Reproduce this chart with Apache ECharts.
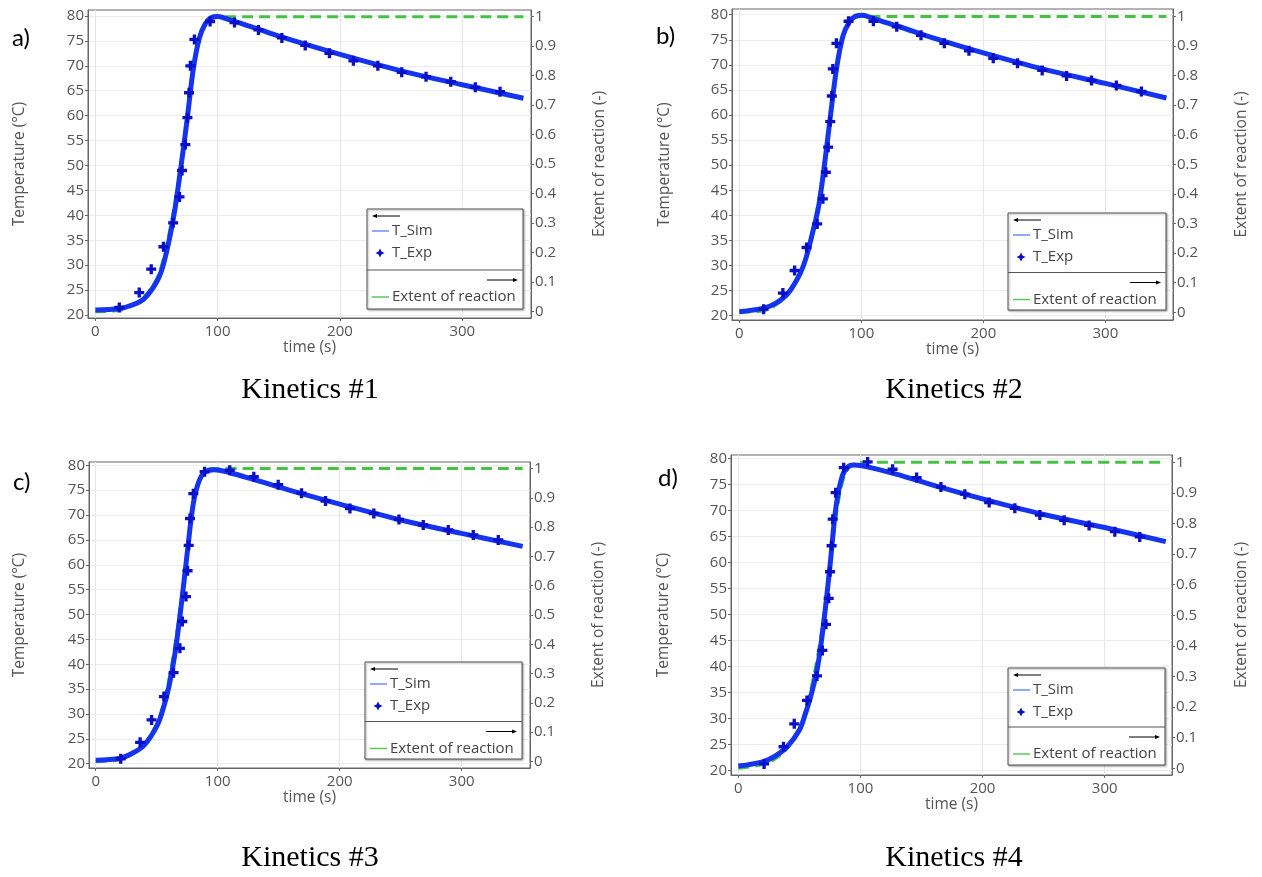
<!DOCTYPE html>
<html>
<head>
<meta charset="utf-8">
<script src="https://cdn.jsdelivr.net/npm/echarts@6/dist/echarts.min.js"></script>
<style>
html,body{margin:0;padding:0;background:#fff;}
#chart{width:1262px;height:877px;}
</style>
</head>
<body>
<div id="chart"></div>
<script>
// ---------- tick labels ----------
const timeTicks = [0, 100, 200, 300];
const tempTicks = [20, 25, 30, 35, 40, 45, 50, 55, 60, 65, 70, 75, 80];
const extentTicks = [0, 0.1, 0.2, 0.3, 0.4, 0.5, 0.6, 0.7, 0.8, 0.9, 1];
const panelLetters = ['a)', 'b)', 'c)', 'd)'];
const captions = ['Kinetics #1', 'Kinetics #2', 'Kinetics #3', 'Kinetics #4'];
const legendNames = ['T_Sim', 'T_Exp', 'Extent of reaction'];

// ---------- Kinetics #1 ----------
const simA_t = [0, 20, 30, 40, 50, 55, 60, 65, 70, 75, 80, 85, 90, 95, 100, 110, 130, 160, 200, 250, 300, 350];
const simA_T = [21.0, 21.3, 22.0, 23.3, 26.6, 29.6, 34.6, 41.1, 49.8, 59.1, 69.2, 75.5, 78.5, 79.7, 79.9, 79.2, 77.6, 75.2, 72.3, 69.0, 66.2, 63.5];
const expA_t = [19.6, 35.9, 45.7, 55.7, 63.6, 68.8, 70.9, 73.6, 75.3, 76.6, 77.7, 81.0, 93.8, 113.8, 133.4, 152.5, 171.6, 191.4, 211, 231, 250.5, 270.4, 290.6, 310.7, 330.9];
const expA_T = [21.5, 24.5, 29.2, 33.7, 38.5, 43.7, 49.0, 54.2, 59.6, 64.6, 70.0, 75.3, 78.9, 78.7, 77.2, 75.6, 74.1, 72.5, 71.0, 70.0, 68.7, 67.8, 66.8, 65.7, 64.8];
const extA_t = [0, 20, 30, 40, 50, 55, 60, 65, 70, 75, 80, 85, 90, 95, 100, 350];
const extA_v = [0, 0.005, 0.02, 0.05, 0.11, 0.17, 0.26, 0.37, 0.5, 0.65, 0.81, 0.92, 0.97, 0.995, 1, 1];

// ---------- Kinetics #2 ----------
const simB_t = [0, 20, 30, 40, 50, 55, 60, 65, 70, 75, 80, 85, 90, 95, 101, 110, 130, 160, 200, 250, 300, 350];
const simB_T = [20.8, 21.5, 22.5, 24.5, 28.5, 31.8, 36.5, 41.8, 50.5, 60.5, 69.8, 75.8, 78.5, 79.7, 79.9, 79.2, 77.7, 75.3, 72.4, 69.1, 66.3, 63.4];
const expB_t = [19.9, 35.7, 45.3, 55.1, 63.8, 68.5, 70.9, 72.8, 74.5, 75.8, 76.6, 79.6, 89.5, 109.9, 129, 148.9, 168, 188.2, 208.1, 228, 248.2, 268.2, 288.6, 309, 329.5];
const expB_T = [21.3, 24.5, 29.0, 33.6, 38.3, 43.3, 48.6, 53.6, 58.7, 63.8, 69.2, 74.3, 78.7, 78.7, 77.6, 75.9, 74.3, 72.8, 71.3, 70.3, 68.9, 67.8, 66.9, 65.9, 64.7];
const extB_t = [0, 20, 30, 40, 50, 55, 60, 65, 70, 75, 80, 85, 90, 95, 101, 350];
const extB_v = [0, 0.005, 0.025, 0.06, 0.13, 0.19, 0.28, 0.38, 0.52, 0.68, 0.83, 0.93, 0.975, 0.995, 1, 1];

// ---------- Kinetics #3 ----------
const simC_t = [0, 20, 30, 40, 50, 55, 60, 65, 70, 75, 80, 85, 90, 97, 110, 130, 160, 200, 250, 300, 350];
const simC_T = [20.7, 21.1, 22.1, 23.8, 27.5, 30.8, 35.5, 42.2, 51.6, 62.3, 72.3, 77.0, 78.7, 79.1, 78.5, 77.1, 74.9, 72.2, 69.0, 66.3, 63.7];
const expC_t = [20.5, 36.4, 45.8, 55.9, 63.8, 69.0, 71.0, 74.0, 75.3, 76.2, 77.3, 80.0, 89.3, 109.9, 129.6, 149.6, 168.7, 188.4, 208.4, 228, 248.6, 268.5, 289, 309.5, 330];
const expC_T = [21.0, 24.3, 28.8, 33.5, 38.3, 43.2, 48.6, 53.6, 58.8, 63.9, 69.3, 74.3, 78.7, 79.0, 77.7, 76.1, 74.4, 72.8, 71.3, 70.3, 69.1, 68.0, 67.0, 66.0, 65.0];
const extC_t = [0, 20, 30, 40, 50, 55, 60, 65, 70, 75, 80, 85, 90, 95, 350];
const extC_v = [0, 0.006, 0.025, 0.06, 0.13, 0.19, 0.28, 0.4, 0.55, 0.72, 0.88, 0.96, 0.99, 1, 1];

// ---------- Kinetics #4 ----------
const simD_t = [0, 20, 30, 40, 50, 55, 60, 65, 70, 75, 80, 85, 90, 95, 100, 110, 130, 160, 200, 250, 300, 350];
const simD_T = [20.9, 21.7, 22.8, 24.6, 27.8, 31.0, 34.9, 40.0, 48.6, 59.2, 70.7, 76.5, 78.4, 78.7, 78.6, 78.1, 76.9, 74.8, 72.2, 69.2, 66.7, 64.0];
const expD_t = [21.1, 37.0, 45.8, 56.2, 64.4, 68.8, 71.8, 74.0, 75.1, 76.4, 77.3, 79.7, 86.3, 105.9, 126.3, 146, 165.9, 185.5, 205.4, 226.4, 246.9, 266.8, 287.2, 308.3, 328.7];
const expD_T = [21.3, 24.6, 29.0, 33.5, 38.2, 43.1, 48.1, 53.1, 58.2, 63.2, 68.3, 73.4, 78.2, 79.3, 77.9, 76.3, 74.5, 73.1, 71.5, 70.4, 69.1, 68.1, 67.1, 65.9, 64.9];
const extD_t = [0, 20, 30, 40, 50, 55, 60, 65, 70, 75, 80, 85, 90, 95, 100, 350];
const extD_v = [0, 0.012, 0.03, 0.065, 0.13, 0.19, 0.27, 0.37, 0.5, 0.66, 0.82, 0.93, 0.98, 0.995, 1, 1];

// ---------- layout (pixels) ----------
const panels = [
  { grid: { left: 88, top: 10, width: 443, height: 308 }, x: [-6.0, 356.2], yl: [19.4, 81.2], yr: [-0.0214, 1.0227],
    legend: [367, 209, 156, 100, 61], letter: [24, 43], caption: [310, 390], lgap: 60, rgap: 61, xgap: 20,
    sim: [simA_t, simA_T], exp: [expA_t, expA_T], ext: [extA_t, extA_v] },
  { grid: { left: 732, top: 9, width: 441, height: 311 }, x: [-6.0, 355.4], yl: [19.14, 81.14], yr: [-0.026, 1.025],
    legend: [1008, 213, 158, 97, 59.5], letter: [668, 41], caption: [954, 390], lgap: 59, rgap: 61, xgap: 19,
    sim: [simB_t, simB_T], exp: [expB_t, expB_T], ext: [extB_t, extB_v] },
  { grid: { left: 89, top: 462, width: 441, height: 306 }, x: [-5.5, 356], yl: [19.14, 80.66], yr: [-0.0225, 1.0225],
    legend: [365, 662, 157, 97, 59.5], letter: [25, 487], caption: [310, 858], lgap: 61, rgap: 61, xgap: 20,
    sim: [simC_t, simC_T], exp: [expC_t, expC_T], ext: [extC_t, extC_v] },
  { grid: { left: 731, top: 455, width: 441, height: 320 }, x: [-6.0, 355.1], yl: [19.17, 80.63], yr: [-0.0219, 1.0239],
    legend: [1008, 668, 157, 97, 59], letter: [670, 483], caption: [954, 858], lgap: 59, rgap: 62, xgap: 19,
    sim: [simD_t, simD_T], exp: [expD_t, expD_T], ext: [extD_t, extD_v] }
];

const FONT = '"Open Sans", "Noto Sans", sans-serif';
const AXIS_COLOR = '#666';
const TEXT_COLOR = '#555';
const PLUS = 'path://M3,0 L6,0 L6,3 L9,3 L9,6 L6,6 L6,9 L3,9 L3,6 L0,6 L0,3 L3,3 Z';

const zip = (a, b) => a.map((v, i) => [v, b[i]]);

const grids = [], xAxes = [], yAxes = [], series = [], graphics = [];

panels.forEach((p, i) => {
  grids.push(Object.assign({ show: true, borderColor: AXIS_COLOR, borderWidth: 1, backgroundColor: '#fff', containLabel: false }, p.grid));
  xAxes.push({
    type: 'value', gridIndex: i, min: p.x[0], max: p.x[1],
    name: 'time (s)', nameLocation: 'middle', nameGap: p.xgap,
    nameTextStyle: { color: TEXT_COLOR, fontSize: 15.5, fontFamily: FONT },
    axisLine: { show: true, onZero: false, lineStyle: { color: AXIS_COLOR } },
    axisTick: { show: true, length: 3, customValues: timeTicks, lineStyle: { color: AXIS_COLOR } },
    axisLabel: { customValues: timeTicks, margin: 6, color: TEXT_COLOR, fontSize: 15, fontFamily: FONT },
    splitLine: { show: true, lineStyle: { color: '#e6e6e6', width: 1 } }
  });
  yAxes.push({
    type: 'value', gridIndex: i, position: 'left', min: p.yl[0], max: p.yl[1],
    name: 'Temperature (°C)', nameLocation: 'middle', nameGap: p.lgap,
    nameTextStyle: { color: TEXT_COLOR, fontSize: 15.5, fontFamily: FONT },
    axisLine: { show: true, onZero: false, lineStyle: { color: AXIS_COLOR } },
    axisTick: { show: true, length: 3, customValues: tempTicks, lineStyle: { color: AXIS_COLOR } },
    axisLabel: { customValues: tempTicks, margin: 4, color: TEXT_COLOR, fontSize: 15, fontFamily: FONT },
    splitLine: { show: true, lineStyle: { color: '#ececec', width: 1 } }
  });
  yAxes.push({
    type: 'value', gridIndex: i, position: 'right', min: p.yr[0], max: p.yr[1],
    name: 'Extent of reaction (-)', nameLocation: 'middle', nameGap: p.rgap,
    nameTextStyle: { color: TEXT_COLOR, fontSize: 15.5, fontFamily: FONT },
    axisLine: { show: true, onZero: false, lineStyle: { color: AXIS_COLOR } },
    axisTick: { show: true, length: 3, customValues: extentTicks, lineStyle: { color: AXIS_COLOR } },
    axisLabel: { customValues: extentTicks, margin: 4, color: TEXT_COLOR, fontSize: 15, fontFamily: FONT },
    splitLine: { show: false }
  });

  series.push({
    name: legendNames[2], type: 'line', xAxisIndex: i, yAxisIndex: 2 * i + 1,
    data: zip(p.ext[0], p.ext[1]), smooth: 0.35, showSymbol: false, z: 2,
    lineStyle: { color: '#46c146', width: 3, type: [11, 6] }
  });
  series.push({
    name: legendNames[0], type: 'line', xAxisIndex: i, yAxisIndex: 2 * i,
    data: zip(p.sim[0], p.sim[1]), smooth: 0.35, showSymbol: false, z: 3,
    lineStyle: { color: '#1434f0', width: 5 }
  });
  series.push({
    name: legendNames[1], type: 'scatter', xAxisIndex: i, yAxisIndex: 2 * i,
    data: zip(p.exp[0], p.exp[1]), symbol: PLUS, symbolSize: 10, z: 4,
    itemStyle: { color: '#0a10c8', opacity: 1 }
  });

  // panel letter and caption
  graphics.push({ type: 'text', left: p.letter[0] - 12, top: p.letter[1] - 17,
    style: { text: panelLetters[i], font: '24px Lato, "Open Sans", sans-serif', fill: '#000' } });
  graphics.push({ type: 'text', x: p.caption[0], y: p.caption[1],
    style: { text: captions[i], font: '30px "Liberation Serif", "DejaVu Serif", serif', fill: '#000', align: 'center', verticalAlign: 'middle' } });

  // legend box
  const [lx, ly, lw, lh, ld] = p.legend;
  const txt = { font: '15px ' + FONT, fill: '#444', verticalAlign: 'middle', align: 'left' };
  graphics.push({ type: 'rect', shape: { x: lx, y: ly, width: lw, height: lh },
    style: { fill: '#fff', stroke: '#555', lineWidth: 1, shadowBlur: 2, shadowColor: 'rgba(0,0,0,0.35)', shadowOffsetX: 1, shadowOffsetY: 1 }, z: 10 });
  graphics.push({ type: 'line', shape: { x1: lx, y1: ly + ld, x2: lx + lw, y2: ly + ld }, style: { stroke: '#555', lineWidth: 1 }, z: 11 });
  // left arrow
  graphics.push({ type: 'line', shape: { x1: lx + 7, y1: ly + 7, x2: lx + 33, y2: ly + 7 }, style: { stroke: '#000', lineWidth: 1 }, z: 11 });
  graphics.push({ type: 'polygon', shape: { points: [[lx + 5, ly + 7], [lx + 10, ly + 5], [lx + 10, ly + 9]] }, style: { fill: '#000' }, z: 11 });
  // T_Sim
  graphics.push({ type: 'line', shape: { x1: lx + 5, y1: ly + 22, x2: lx + 22, y2: ly + 22 }, style: { stroke: '#6f8cff', lineWidth: 1.5 }, z: 11 });
  graphics.push({ type: 'text', x: lx + 25, y: ly + 22, style: Object.assign({ text: legendNames[0] }, txt), z: 11 });
  // T_Exp
  graphics.push({ type: 'polygon', shape: { points: [[lx + 13, ly + 39.5], [lx + 14.5, ly + 42.5], [lx + 17.5, ly + 44], [lx + 14.5, ly + 45.5], [lx + 13, ly + 48.5], [lx + 11.5, ly + 45.5], [lx + 8.5, ly + 44], [lx + 11.5, ly + 42.5]] }, style: { fill: '#0a10c8' }, z: 11 });
  graphics.push({ type: 'text', x: lx + 25, y: ly + 44, style: Object.assign({ text: legendNames[1] }, txt), z: 11 });
  // right arrow
  graphics.push({ type: 'line', shape: { x1: lx + lw - 36, y1: ly + ld + 10, x2: lx + lw - 9, y2: ly + ld + 10 }, style: { stroke: '#000', lineWidth: 1 }, z: 11 });
  graphics.push({ type: 'polygon', shape: { points: [[lx + lw - 5, ly + ld + 10], [lx + lw - 10, ly + ld + 8], [lx + lw - 10, ly + ld + 12]] }, style: { fill: '#000' }, z: 11 });
  // Extent of reaction
  graphics.push({ type: 'line', shape: { x1: lx + 5, y1: ly + ld + 27, x2: lx + 22, y2: ly + ld + 27 }, style: { stroke: '#5cc85c', lineWidth: 1.5 }, z: 11 });
  graphics.push({ type: 'text', x: lx + 25, y: ly + ld + 27, style: Object.assign({ text: legendNames[2] }, txt), z: 11 });
});

const chart = echarts.init(document.getElementById('chart'), null, { renderer: 'canvas' });
chart.setOption({
  backgroundColor: '#fff',
  animation: false,
  grid: grids,
  xAxis: xAxes,
  yAxis: yAxes,
  series: series,
  graphic: { elements: graphics }
});
</script>
</body>
</html>
